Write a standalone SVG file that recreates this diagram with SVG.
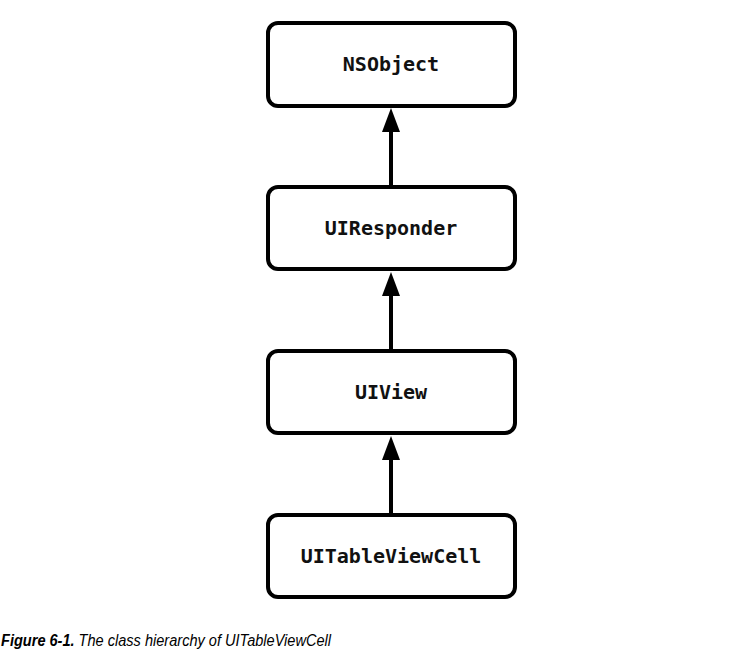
<svg xmlns="http://www.w3.org/2000/svg" width="731" height="652" viewBox="0 0 731 652">
<style>
.box{fill:#fff;stroke:#000;stroke-width:4}
.lbl{font-family:"DejaVu Sans Mono","Liberation Mono",monospace;font-weight:bold;font-size:20px;text-anchor:middle;fill:#111}
.edge{stroke:#000;stroke-width:4;fill:none}
.cap{font-family:"Liberation Sans",Arial,sans-serif;font-style:italic;font-size:16px;fill:#000}
</style>
<rect width="731" height="652" fill="#fff"/>
<g id="connectors">
<line class="edge" x1="391" y1="187" x2="391" y2="132"/>
<path d="M382,132 L391,108 L400,132 Z"/>
<line class="edge" x1="391" y1="351" x2="391" y2="296"/>
<path d="M382,296 L391,272 L400,296 Z"/>
<line class="edge" x1="391" y1="515" x2="391" y2="460"/>
<path d="M382,460 L391,436 L400,460 Z"/>
</g>
<g id="NSObject">
<rect class="box" x="268" y="23" width="247" height="83" rx="10"/>
<text class="lbl" x="391" y="71">NSObject</text>
</g>
<g id="UIResponder">
<rect class="box" x="268" y="187" width="247" height="82" rx="10"/>
<text class="lbl" x="391" y="235">UIResponder</text>
</g>
<g id="UIView">
<rect class="box" x="268" y="351" width="247" height="82" rx="10"/>
<text class="lbl" x="391" y="399">UIView</text>
</g>
<g id="UITableViewCell">
<rect class="box" x="268" y="515" width="247" height="82" rx="10"/>
<text class="lbl" x="391" y="563">UITableViewCell</text>
</g>
<text class="cap" x="1" y="646" textLength="330" lengthAdjust="spacingAndGlyphs"><tspan font-weight="bold">Figure 6-1.</tspan>  The class hierarchy of UITableViewCell</text>
</svg>
